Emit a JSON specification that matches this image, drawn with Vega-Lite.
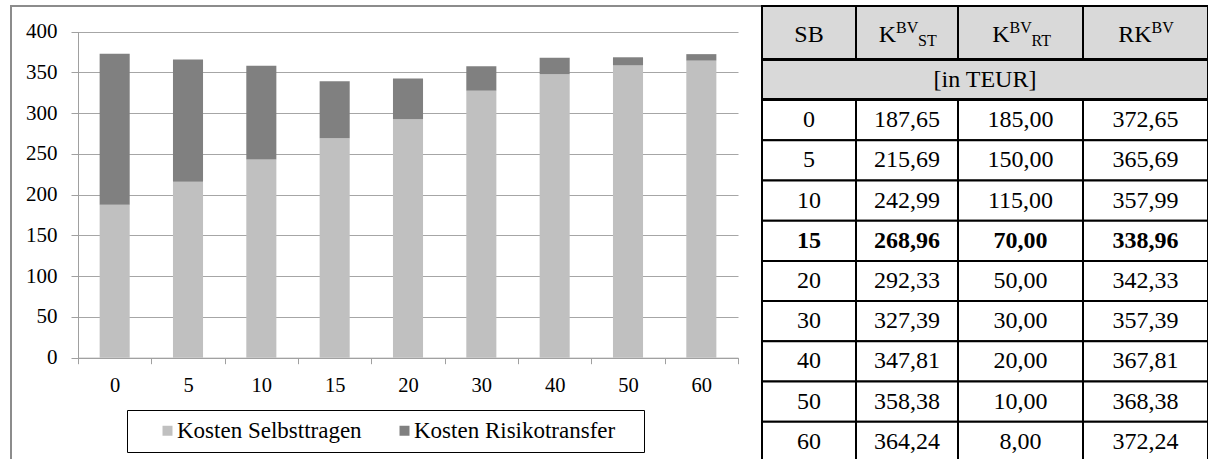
{
  "$schema": "https://vega.github.io/schema/vega-lite/v6.json",
  "background": "white",
  "padding": {"left": 10, "top": 5, "right": 0, "bottom": 0},
  "spacing": 0,
  "bounds": "flush",
  "config": {
    "font": "Liberation Serif",
    "locale": {"number": {"decimal": ",", "thousands": ".", "grouping": [3], "currency": ["", " €"]}},
    "view": {"stroke": null},
    "axis": {"labelColor": "black", "labelFont": "Liberation Serif"},
    "text": {"color": "black", "font": "Liberation Serif"}
  },
  "datasets": {
    "costs": [
      {"SB": 0, "Kosten Selbsttragen": 187.65, "Kosten Risikotransfer": 185.00, "RK": 372.65},
      {"SB": 5, "Kosten Selbsttragen": 215.69, "Kosten Risikotransfer": 150.00, "RK": 365.69},
      {"SB": 10, "Kosten Selbsttragen": 242.99, "Kosten Risikotransfer": 115.00, "RK": 357.99},
      {"SB": 15, "Kosten Selbsttragen": 268.96, "Kosten Risikotransfer": 70.00, "RK": 338.96},
      {"SB": 20, "Kosten Selbsttragen": 292.33, "Kosten Risikotransfer": 50.00, "RK": 342.33},
      {"SB": 30, "Kosten Selbsttragen": 327.39, "Kosten Risikotransfer": 30.00, "RK": 357.39},
      {"SB": 40, "Kosten Selbsttragen": 347.81, "Kosten Risikotransfer": 20.00, "RK": 367.81},
      {"SB": 50, "Kosten Selbsttragen": 358.38, "Kosten Risikotransfer": 10.00, "RK": 368.38},
      {"SB": 60, "Kosten Selbsttragen": 364.24, "Kosten Risikotransfer": 8.00, "RK": 372.24}
    ],
    "header": [
      {"col": "SB", "base": "SB"},
      {"col": "KST", "base": "K", "sup": "BV", "sub": "ST"},
      {"col": "KRT", "base": "K", "sup": "BV", "sub": "RT"},
      {"col": "RK", "base": "RK", "sup": "BV"}
    ],
    "unit": [{"label": "[in TEUR]"}]
  },
  "hconcat": [
    {
      "width": 751,
      "height": 470,
      "view": {"stroke": "#8c8c8c", "strokeWidth": 2, "fill": "white"},
      "data": {"name": "costs"},
      "transform": [{"fold": ["Kosten Selbsttragen", "Kosten Risikotransfer"], "as": ["serie", "wert"]}],
      "mark": {"type": "bar", "width": {"band": 0.41}},
      "encoding": {
        "x": {
          "field": "SB", "type": "ordinal",
          "scale": {"range": [67, 727], "paddingInner": 0, "paddingOuter": 0},
          "axis": {"title": null, "orient": "bottom", "offset": -118.3, "labelAngle": 0, "tickBand": "extent",
                   "domainColor": "#a0a0a0", "tickColor": "#a0a0a0", "tickSize": 6, "labelPadding": 12,
                   "labelFontSize": 20.5, "grid": false}
        },
        "y": {
          "field": "wert", "type": "quantitative", "stack": "zero",
          "scale": {"domain": [0, 400], "range": [351.7, 25.5], "nice": false, "zero": true},
          "axis": {"title": null, "orient": "left", "offset": -67, "values": [0, 50, 100, 150, 200, 250, 300, 350, 400],
                   "domainColor": "#a0a0a0", "tickColor": "#a0a0a0", "tickSize": 7, "labelPadding": 14,
                   "labelFontSize": 21, "grid": true, "gridColor": "#a6a6a6", "gridWidth": 1}
        },
        "color": {
          "field": "serie", "type": "nominal",
          "scale": {"domain": ["Kosten Selbsttragen", "Kosten Risikotransfer"], "range": ["#c0c0c0", "#808080"]},
          "legend": {"orient": "none", "legendX": 116, "legendY": 404, "direction": "horizontal",
                     "title": "\u00a0", "titleOrient": "right", "titleFontSize": 20.5, "titlePadding": 20,
                     "labelFontSize": 23, "labelColor": "black", "labelFont": "Liberation Serif",
                     "symbolType": "square", "symbolSize": 100, "symbolStrokeWidth": 0, "symbolOffset": 20,
                     "labelOffset": -2, "columnPadding": 11, "padding": 9, "strokeColor": "black", "labelLimit": 0}
        },
        "order": {"field": "serie", "sort": "descending"}
      }
    },
    {
      "spacing": -3,
      "vconcat": [
        {
          "spacing": 0,
          "bounds": "flush",
          "hconcat": [
            {
              "width": 94, "height": 53,
              "view": {"fill": "#d9d9d9", "stroke": "black", "strokeWidth": 2},
              "data": {"name": "header"},
              "transform": [{"filter": "datum.col === 'SB'"}],
              "mark": {"type": "text", "fontSize": 24, "dy": 2},
              "encoding": {"text": {"field": "base"}}
            },
            {
              "width": 102, "height": 53,
              "view": {"fill": "#d9d9d9", "stroke": "black", "strokeWidth": 2},
              "data": {"name": "header"},
              "transform": [{"filter": "datum.col === 'KST'"}],
              "layer": [
                {"mark": {"type": "text", "fontSize": 24, "align": "right", "dx": -11, "dy": 2}, "encoding": {"text": {"field": "base"}}},
                {"mark": {"type": "text", "fontSize": 16, "align": "left", "dx": -11, "dy": -5}, "encoding": {"text": {"field": "sup"}}},
                {"mark": {"type": "text", "fontSize": 16, "align": "left", "dx": 11, "dy": 8}, "encoding": {"text": {"field": "sub"}}}
              ]
            },
            {
              "width": 125, "height": 53,
              "view": {"fill": "#d9d9d9", "stroke": "black", "strokeWidth": 2},
              "data": {"name": "header"},
              "transform": [{"filter": "datum.col === 'KRT'"}],
              "layer": [
                {"mark": {"type": "text", "fontSize": 24, "align": "right", "dx": -11, "dy": 2}, "encoding": {"text": {"field": "base"}}},
                {"mark": {"type": "text", "fontSize": 16, "align": "left", "dx": -11, "dy": -5}, "encoding": {"text": {"field": "sup"}}},
                {"mark": {"type": "text", "fontSize": 16, "align": "left", "dx": 11, "dy": 8}, "encoding": {"text": {"field": "sub"}}}
              ]
            },
            {
              "width": 125, "height": 53,
              "view": {"fill": "#d9d9d9", "stroke": "black", "strokeWidth": 2},
              "data": {"name": "header"},
              "transform": [{"filter": "datum.col === 'RK'"}],
              "layer": [
                {"mark": {"type": "text", "fontSize": 24, "align": "right", "dx": 6, "dy": 2}, "encoding": {"text": {"field": "base"}}},
                {"mark": {"type": "text", "fontSize": 16, "align": "left", "dx": 6, "dy": -5}, "encoding": {"text": {"field": "sup"}}}
              ]
            }
          ]
        },
        {
          "width": 446, "height": 39,
          "view": {"fill": "#d9d9d9", "stroke": "black", "strokeWidth": 2},
          "data": {"name": "unit"},
          "mark": {"type": "text", "fontSize": 24},
          "encoding": {"text": {"field": "label"}}
        },
        {
          "spacing": 0,
          "bounds": "flush",
          "hconcat": [
            {
              "width": 94, "height": 362,
              "data": {"name": "costs"},
              "encoding": {"y": {"field": "SB", "type": "ordinal", "axis": null, "scale": {"paddingInner": 0, "paddingOuter": 0}}},
              "layer": [
                {"mark": {"type": "rect", "fill": "white", "stroke": "black", "strokeWidth": 2}},
                {"transform": [{"filter": "datum.SB !== 15"}],
                 "mark": {"type": "text", "fontSize": 24},
                 "encoding": {"text": {"field": "SB", "type": "quantitative", "format": "d"}}},
                {"transform": [{"filter": "datum.SB === 15"}],
                 "mark": {"type": "text", "fontSize": 24, "fontWeight": "bold"},
                 "encoding": {"text": {"field": "SB", "type": "quantitative", "format": "d"}}}
              ]
            },
            {
              "width": 102, "height": 362,
              "data": {"name": "costs"},
              "encoding": {"y": {"field": "SB", "type": "ordinal", "axis": null, "scale": {"paddingInner": 0, "paddingOuter": 0}}},
              "layer": [
                {"mark": {"type": "rect", "fill": "white", "stroke": "black", "strokeWidth": 2}},
                {"transform": [{"filter": "datum.SB !== 15"}],
                 "mark": {"type": "text", "fontSize": 24},
                 "encoding": {"text": {"field": "Kosten Selbsttragen", "type": "quantitative", "format": ".2f"}}},
                {"transform": [{"filter": "datum.SB === 15"}],
                 "mark": {"type": "text", "fontSize": 24, "fontWeight": "bold"},
                 "encoding": {"text": {"field": "Kosten Selbsttragen", "type": "quantitative", "format": ".2f"}}}
              ]
            },
            {
              "width": 125, "height": 362,
              "data": {"name": "costs"},
              "encoding": {"y": {"field": "SB", "type": "ordinal", "axis": null, "scale": {"paddingInner": 0, "paddingOuter": 0}}},
              "layer": [
                {"mark": {"type": "rect", "fill": "white", "stroke": "black", "strokeWidth": 2}},
                {"transform": [{"filter": "datum.SB !== 15"}],
                 "mark": {"type": "text", "fontSize": 24},
                 "encoding": {"text": {"field": "Kosten Risikotransfer", "type": "quantitative", "format": ".2f"}}},
                {"transform": [{"filter": "datum.SB === 15"}],
                 "mark": {"type": "text", "fontSize": 24, "fontWeight": "bold"},
                 "encoding": {"text": {"field": "Kosten Risikotransfer", "type": "quantitative", "format": ".2f"}}}
              ]
            },
            {
              "width": 125, "height": 362,
              "data": {"name": "costs"},
              "encoding": {"y": {"field": "SB", "type": "ordinal", "axis": null, "scale": {"paddingInner": 0, "paddingOuter": 0}}},
              "layer": [
                {"mark": {"type": "rect", "fill": "white", "stroke": "black", "strokeWidth": 2}},
                {"transform": [{"filter": "datum.SB !== 15"}],
                 "mark": {"type": "text", "fontSize": 24},
                 "encoding": {"text": {"field": "RK", "type": "quantitative", "format": ".2f"}}},
                {"transform": [{"filter": "datum.SB === 15"}],
                 "mark": {"type": "text", "fontSize": 24, "fontWeight": "bold"},
                 "encoding": {"text": {"field": "RK", "type": "quantitative", "format": ".2f"}}}
              ]
            }
          ]
        }
      ]
    }
  ]
}
